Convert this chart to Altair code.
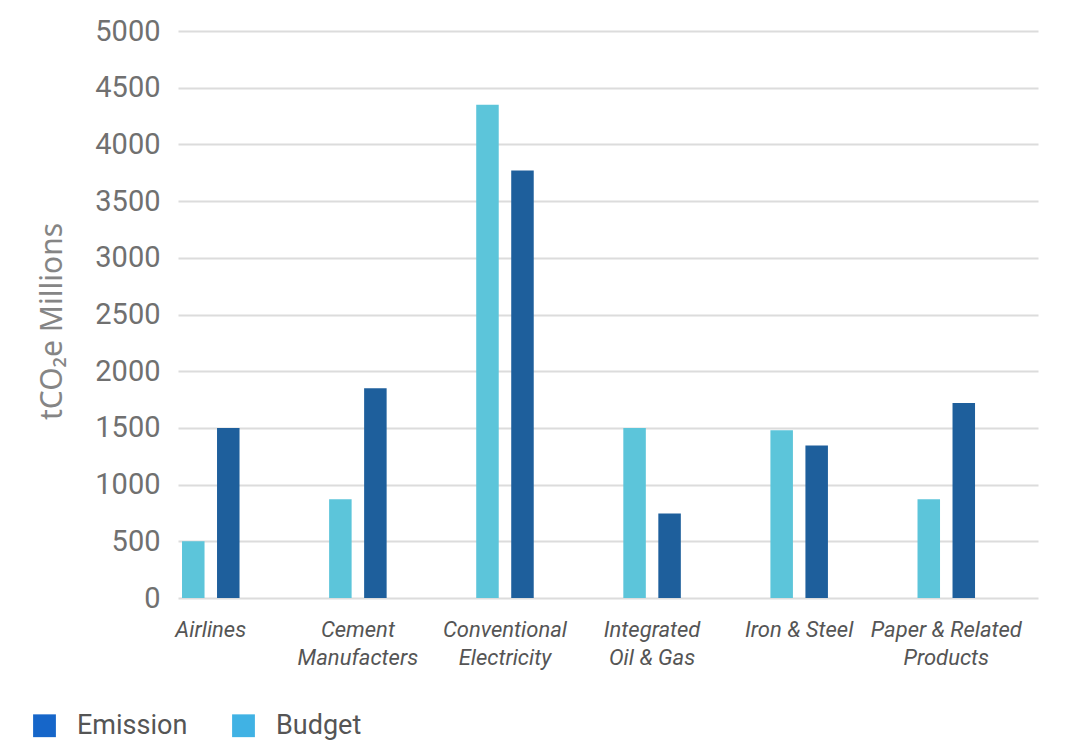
import json
import altair as alt
import pandas as pd

categories = ["Airlines", "Cement Manufacters", "Conventional Electricity",
              "Integrated Oil & Gas", "Iron & Steel", "Paper & Related Products"]
label_lines = [["Airlines"], ["Cement", "Manufacters"], ["Conventional", "Electricity"],
               ["Integrated", "Oil & Gas"], ["Iron & Steel"], ["Paper & Related", "Products"]]
budget = [500, 870, 4350, 1500, 1480, 870]
emission = [1500, 1850, 3770, 745, 1345, 1720]

series_names = ["Budget", "Emission"]
bar_colors = ["#5cc5da", "#1e5f9c"]
legend_order = ["Emission", "Budget"]
legend_colors = ["#1666c9", "#40b2e4"]
y_ticks = list(range(0, 5001, 500))

rows = []
for c, b, e in zip(categories, budget, emission):
    rows.append({"category": c, "series": "Budget", "value": b})
    rows.append({"category": c, "series": "Emission", "value": e})
df = pd.DataFrame(rows)

expr = "datum.value"
for c, lines in reversed(list(zip(categories, label_lines))):
    expr = f"datum.value === {json.dumps(c)} ? {json.dumps(lines)} : ({expr})"

x_enc = alt.X(
    "category:N", sort=categories,
    scale=alt.Scale(paddingInner=0.609, paddingOuter=0.2277, align=0.06),
    axis=alt.Axis(title=None, labelAngle=0, labelExpr=expr, labelFont="Roboto",
                  labelFontSize=22, labelFontStyle="italic", labelColor="#555555",
                  labelLineHeight=28, labelPadding=21, domain=False, ticks=False,
                  grid=False),
)
y_enc = alt.Y(
    "value:Q",
    scale=alt.Scale(domain=[0, 5000], nice=False),
    axis=alt.Axis(values=y_ticks, format="d", title="tCO₂e Millions", titleFont="Noto Sans",
                  titleFontSize=30, titleFontWeight="normal", titleColor="#858585",
                  titleAngle=270, titleX=-126, titleY=290, titleAlign="center",
                  titleBaseline="middle",
                  labelFont="Roboto", labelFontSize=29, labelColor="#707070",
                  labelPadding=18, domain=False, ticks=False,
                  gridColor="#dcdcdc", gridWidth=2),
)

bars = alt.Chart(df).mark_bar().encode(
    x=x_enc,
    y=y_enc,
    xOffset=alt.XOffset("series:N", sort=series_names,
                        scale=alt.Scale(domain=series_names, paddingInner=0.357, paddingOuter=0)),
    color=alt.Color("series:N", scale=alt.Scale(domain=series_names, range=bar_colors),
                    legend=None),
)

legend_layer = alt.Chart(df).mark_bar().encode(
    x=alt.X("category:N", sort=categories),
    y=alt.datum(0),
    color=alt.Color(
        "series:N",
        scale=alt.Scale(domain=legend_order, range=legend_colors),
        legend=alt.Legend(title=None, orient="none", legendX=-147, legendY=681,
                          direction="horizontal", symbolType="square", symbolSize=520,
                          symbolStrokeWidth=0, labelFont="Roboto", labelFontSize=27,
                          labelColor="#555555", labelOffset=19, columnPadding=42,
                          padding=0),
    ),
)

chart = alt.layer(bars, legend_layer).resolve_scale(color="independent").properties(
    width=860,
    height=567,
    autosize=alt.AutoSizeParams(type="none"),
    padding={"left": 178, "top": 31, "right": 30, "bottom": 142},
    background="white",
).configure_view(stroke=None)

chart.save("out.html", embed_options={"renderer": "svg", "actions": False})
